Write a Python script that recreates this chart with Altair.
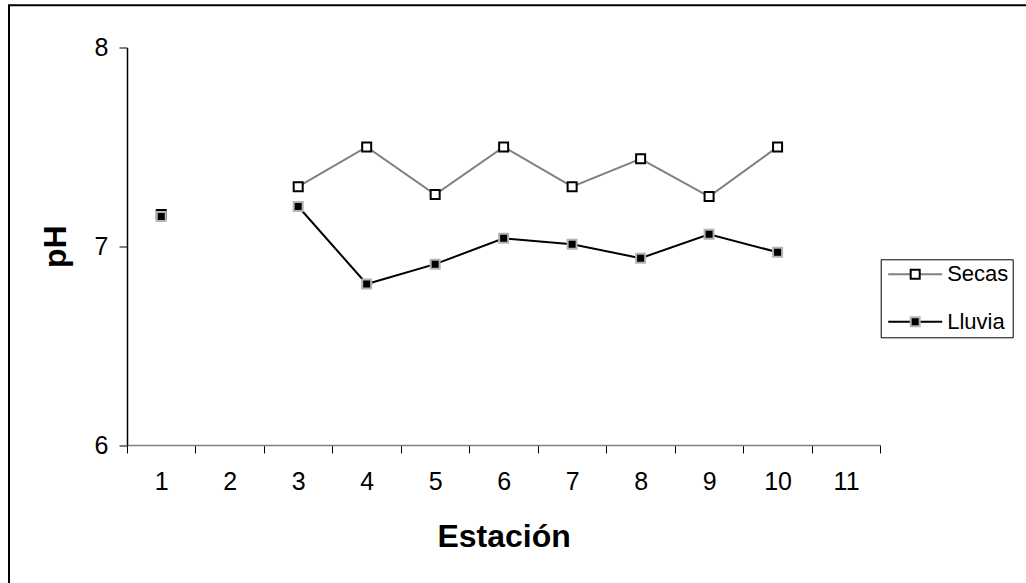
import altair as alt
import pandas as pd

# ---- data ----
estaciones = ["1", "2", "3", "4", "5", "6", "7", "8", "9", "10", "11"]
puntos = ["1", "3", "4", "5", "6", "7", "8", "9", "10"]
secas = [7.16, 7.30, 7.50, 7.26, 7.50, 7.30, 7.44, 7.25, 7.50]
lluvia = [7.15, 7.20, 6.81, 6.91, 7.04, 7.01, 6.94, 7.06, 6.97]
series = ["Secas", "Lluvia"]
y_ticks = [6, 7, 8]

rows = []
for serie, vals in zip(series, [secas, lluvia]):
    for e, v in zip(puntos, vals):
        rows.append({"Estacion": e, "pH": v, "Serie": serie,
                     "Tramo": "a" if e == "1" else "b"})
df = pd.DataFrame(rows)

FONT = "Liberation Sans"
W, H = 753.3, 397.5
PL, PT = 127, 47.5

x = alt.X(
    "Estacion:O",
    scale=alt.Scale(type="band", domain=estaciones, paddingInner=0, paddingOuter=0),
    axis=alt.Axis(
        title="Estación", tickBand="extent", labelAngle=0, grid=False,
        domainColor="#808080", domainWidth=1.5, tickColor="#000000", tickSize=8,
        tickWidth=1, labelFontSize=25, labelPadding=16, labelColor="#000000",
        labelFont=FONT, titleFont=FONT, titleFontSize=32, titleFontWeight="bold",
        titleColor="#000000", titleBaseline="alphabetic", titleY=101.7,
    ),
)
y = alt.Y(
    "pH:Q",
    scale=alt.Scale(domain=[6, 8], nice=False, zero=False),
    axis=alt.Axis(
        title="pH", values=y_ticks, format=".0f", labelOverlap=False, grid=False,
        domainColor="#000000", domainWidth=1.5, tickColor="#000000", tickSize=8,
        tickWidth=1, labelFontSize=25, labelPadding=11, labelColor="#000000",
        labelFont=FONT, titleFont=FONT, titleFontSize=32, titleFontWeight="bold",
        titleColor="#000000", titleBaseline="alphabetic", titleX=-62, titleAngle=270,
    ),
)

leg_common = dict(
    orient="none", legendX=753.7, legendY=211.8, title=None, padding=4,
    rowPadding=25.4, symbolSize=324, symbolStrokeWidth=2, symbolOffset=19.5,
    labelOffset=21, labelFontSize=22, labelFont=FONT, labelColor="#000000",
)

frame = alt.Chart(pd.DataFrame({"k": [0]})).mark_rect(
    fill="transparent", stroke="#000000", strokeWidth=2
).encode(
    x=alt.value(-118), x2=alt.value(1200), y=alt.value(-42.2), y2=alt.value(800)
)

lines = alt.Chart(df).mark_line(strokeWidth=2).encode(
    x=x, y=y,
    stroke=alt.Stroke(
        "Serie:N",
        scale=alt.Scale(domain=series, range=["#808080", "#000000"]),
        legend=alt.Legend(symbolType="M-3,0H3", strokeColor="#000000", **leg_common),
    ),
    detail="Tramo:N",
)

points = alt.Chart(df).mark_point(
    shape="square", size=81, strokeWidth=2, opacity=1, filled=True
).encode(
    x=x, y=y,
    fill=alt.Fill(
        "Serie:N",
        scale=alt.Scale(domain=series, range=["#ffffff", "#000000"]),
        legend=alt.Legend(symbolType="M-0.5,-0.5H0.5V0.5H-0.5Z", labelOpacity=0, **leg_common),
    ),
    stroke=alt.Stroke(
        "Serie:N",
        scale=alt.Scale(domain=series, range=["#000000", "#b4b4b4"]),
        legend=alt.Legend(symbolType="M-0.5,-0.5H0.5V0.5H-0.5Z", labelOpacity=0, **leg_common),
    ),
)

chart = (
    alt.layer(frame, lines, points)
    .resolve_scale(stroke="independent", fill="independent")
    .resolve_legend(stroke="independent", fill="independent")
    .properties(
        width=W, height=H,
        autosize=alt.AutoSizeParams(type="none"),
        padding={"left": PL, "top": PT, "right": 1026 - PL - W, "bottom": 583 - PT - H},
        background="#ffffff",
    )
    .configure(font=FONT)
    .configure_view(stroke="transparent", strokeWidth=0)
)

chart.save("out.html", embed_options={"renderer": "svg", "actions": False})
